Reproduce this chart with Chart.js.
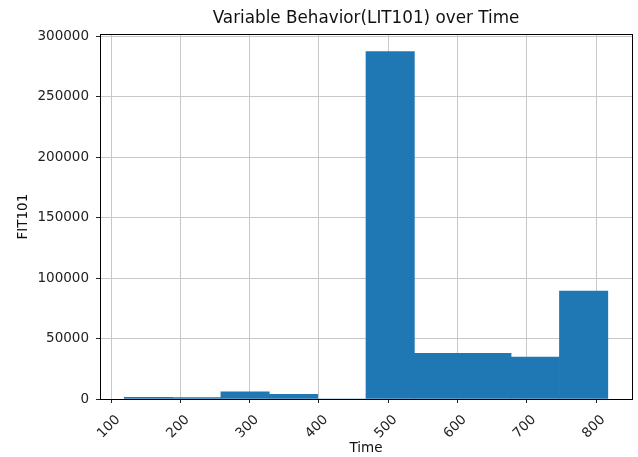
<!DOCTYPE html>
<html>
<head>
<meta charset="utf-8">
<script src="https://cdn.jsdelivr.net/npm/chart.js@4/dist/chart.umd.min.js"></script>
<style>
  html, body { margin: 0; padding: 0; background: #fff; }
  #wrap { width: 638px; height: 457px; position: relative; }
</style>
</head>
<body>
<div id="wrap"><canvas id="c" width="638" height="457"></canvas></div>
<script>
// Histogram bins (Time) and counts (FIT101)
const binStart = [119, 188.8, 258.6, 328.4, 398.2, 468, 537.8, 607.6, 677.4, 747.2];
const binEnd   = [188.8, 258.6, 328.4, 398.2, 468, 537.8, 607.6, 677.4, 747.2, 817];
const counts   = [1300, 1200, 6000, 3900, 0, 287300, 37700, 37700, 34700, 89200];
const xTicks = [100, 200, 300, 400, 500, 600, 700, 800];
const yTicks = [0, 50000, 100000, 150000, 200000, 250000, 300000];

const points = binStart.map((s, i) => ({ x: (s + binEnd[i]) / 2, y: counts[i] }));
const span = binEnd[binEnd.length - 1] - binStart[0];
const xMin = binStart[0] - span * 0.05;
const xMax = binEnd[binEnd.length - 1] + span * 0.05;
const yMax = Math.max(...counts) * 1.05;

const FONT = "'DejaVu Sans', sans-serif";

const framePlugin = {
  id: 'frame',
  afterDraw(chart) {
    const { ctx, chartArea: a } = chart;
    ctx.save();
    ctx.strokeStyle = '#000';
    ctx.lineWidth = 1;
    ctx.strokeRect(Math.round(a.left) + 0.5, Math.round(a.top) + 0.5, Math.round(a.right - a.left), Math.round(a.bottom - a.top));
    ctx.restore();
  }
};

new Chart(document.getElementById('c'), {
  type: 'bar',
  data: {
    datasets: [{
      data: points,
      backgroundColor: '#1f77b4',
      borderWidth: 0,
      barPercentage: 1,
      categoryPercentage: 1,
      grouped: false
    }]
  },
  options: {
    responsive: false,
    animation: false,
    devicePixelRatio: 1,
    layout: { padding: { left: 0, right: 6, top: 0, bottom: 0 } },
    plugins: {
      legend: { display: false },
      tooltip: { enabled: false },
      title: {
        display: true,
        fullSize: false,
        text: 'Variable Behavior(LIT101) over Time',
        color: '#111',
        font: { family: FONT, size: 16.8, weight: 'normal' },
        padding: { top: 9, bottom: 5 }
      }
    },
    scales: {
      x: {
        type: 'linear',
        min: xMin,
        max: xMax,
        offset: false,
        z: 1,
        afterBuildTicks(s) { s.ticks = xTicks.map(v => ({ value: v })); },
        afterFit(s) { s.height = 58; },
        grid: { offset: false, color: '#c8c8c8', lineWidth: 1, tickLength: 4, tickColor: '#222', tickWidth: 1 },
        border: { color: '#000', width: 1 },
        ticks: {
          color: '#222',
          font: { family: FONT, size: 13.5 },
          minRotation: 45,
          maxRotation: 45,
          padding: 9,
          labelOffset: 7,
          autoSkip: false,
          callback: v => String(v)
        },
        title: {
          display: true,
          text: 'Time',
          color: '#111',
          font: { family: FONT, size: 13.5 },
          padding: { top: 0, bottom: 0 }
        }
      },
      y: {
        type: 'linear',
        min: 0,
        max: yMax,
        z: 1,
        afterBuildTicks(s) { s.ticks = yTicks.map(v => ({ value: v })); },
        afterFit(s) { s.width = 100; },
        grid: { color: '#c8c8c8', lineWidth: 1, tickLength: 4, tickColor: '#222', tickWidth: 1 },
        border: { color: '#000', width: 1 },
        ticks: {
          color: '#222',
          font: { family: FONT, size: 13.5 },
          padding: 7,
          autoSkip: false,
          callback: v => String(v)
        },
        title: {
          display: true,
          text: 'FIT101',
          color: '#111',
          font: { family: FONT, size: 13.5 },
          padding: { top: 15, bottom: 0 }
        }
      }
    }
  },
  plugins: [framePlugin]
});
</script>
</body>
</html>
